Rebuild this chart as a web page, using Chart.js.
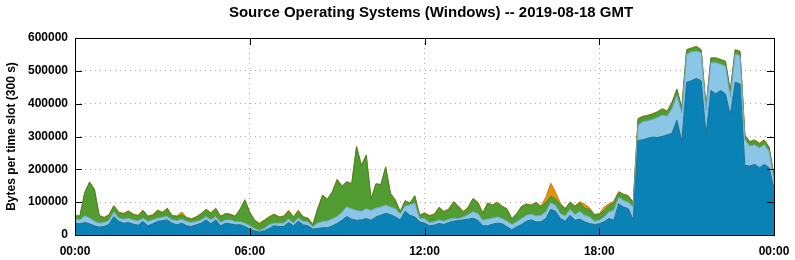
<!DOCTYPE html>
<html lang="en">
<head>
    <meta charset="UTF-8">
    <title>Source Operating Systems (Windows)</title>
    <script src="https://cdn.jsdelivr.net/npm/chart.js"></script>
    <style>
        body {
            margin: 0;
            padding: 0;
            background-color: white;
        }
        canvas {
            display: block;
        }
    </style>
</head>
<body>
    <canvas id="osChart" width="795" height="260"></canvas>

    <script>
        // values in thousands of bytes per 300 s slot, one value every 10 minutes (00:00 .. 24:00)
        const darkBlue = [
            36, 34, 38, 34, 28, 24,   26, 32, 56, 42, 36, 38,
            33, 30, 41, 28, 34, 41,   44, 46, 36, 31, 36, 28,
            26, 31, 36, 46, 34, 46,   28, 36, 34, 31, 31, 26,
            18, 13, 9, 13, 20, 28,    26, 26, 38, 28, 42, 31,
            28, 18, 20, 22, 22, 28,   35, 45, 56, 48, 45, 46,
            50, 45, 55, 60, 66, 62,   55, 46, 72, 60, 55, 40,
            36, 28, 30, 35, 32, 38,   42, 44, 46, 48, 51, 45,
            28, 28, 33, 36, 34, 25,   16, 25, 32, 42, 46, 40,
            40, 50, 78, 72, 50, 42,   60, 45, 48, 40, 35, 32,
            34, 40, 50, 45, 95, 85,   80, 45, 288, 290, 295, 298,
            297, 300, 305, 310, 350, 285,   465, 470, 477, 470, 305, 440,
            430, 440, 430, 365, 465, 460,   212, 210, 215, 205, 215, 205,
            140
        ];
        const lightBlue = [
            12, 12, 20, 18, 14, 12,   12, 12, 14, 10, 12, 13,
            13, 13, 10, 13, 12, 10,   10, 10, 10, 13, 12, 13,
            12, 10, 10, 10, 12, 10,   10, 10, 12, 10, 10, 10,
            10, 7, 4, 7, 11, 8,       10, 10, 10, 8, 10, 10,
            12, 7, 16, 19, 21, 21,    21, 25, 30, 32, 30, 26,
            30, 30, 27, 25, 25, 23,   25, 18, 16, 32, 42, 10,
            14, 10, 10, 11, 10, 10,   9, 6, 9, 14, 20, 20,
            17, 20, 19, 19, 16, 17,   16, 15, 18, 18, 17, 18,
            20, 20, 20, 18, 15, 16,   18, 17, 24, 20, 20, 10,
            10, 15, 20, 30, 20, 20,   20, 40, 47, 55, 53, 54,
            61, 65, 57, 75, 75, 87,   85, 88, 83, 85, 75, 85,
            95, 80, 85, 55, 87, 85,   78, 60, 60, 60, 60, 50,
            28
        ];
        const green = [
            11, 10, 70, 108, 96, 22,  14, 16, 18, 16, 16, 21,
            16, 15, 23, 15, 14, 23,   14, 24, 12, 12, 14, 11,
            10, 13, 18, 21, 20, 24,   18, 18, 16, 15, 36, 70,
            40, 24, 21, 24, 23, 26,   18, 20, 25, 18, 21, 13,
            10, 6, 43, 79, 65, 81,    112, 78, 75, 75, 193, 139,
            162, 33, 73, 67, 115, 40, 25, 6, 15, 4, 21, 9,
            16, 20, 22, 37, 28, 30,   49, 36, 15, 21, 39, 33,
            21, 48, 38, 43, 36, 36,   16, 24, 36, 33, 27, 40,
            25, 30, 20, 20, 27, 21,   21, 24, 27, 22, 23, 19,
            19, 20, 20, 23, 15, 18,   18, 13, 18, 15, 15, 16,
            16, 18, 14, 18, 18, 14,   13, 10, 13, 8, 8, 13,
            13, 13, 13, 18, 11, 13,   13, 13, 13, 13, 13, 11,
            10
        ];
        const orange = [
            2, 2, 2, 2, 2, 2,   2, 2, 2, 2, 2, 2,
            2, 2, 2, 2, 2, 2,   2, 2, 2, 2, 8, 2,
            2, 2, 2, 2, 2, 2,   2, 2, 2, 2, 2, 2,
            2, 2, 2, 2, 2, 2,   2, 2, 2, 2, 2, 2,
            2, 2, 2, 2, 2, 2,   2, 2, 2, 2, 2, 2,
            2, 2, 2, 2, 2, 2,   2, 2, 2, 2, 2, 2,
            2, 2, 2, 2, 2, 2,   2, 2, 2, 2, 2, 2,
            2, 2, 2, 2, 2, 2,   2, 2, 2, 2, 2, 2,
            3, 15, 40, 20, 5, 2,   2, 2, 2, 12, 5, 2,
            2, 10, 5, 5, 2, 2,  2, 2, 2, 2, 2, 2,
            2, 2, 2, 2, 2, 2,   2, 2, 2, 2, 2, 2,
            2, 2, 2, 2, 2, 2,   2, 2, 2, 2, 2, 2,
            2
        ];
        const slotMinutes = darkBlue.map((_, i) => i * 10);
        const yTicks = [0, 100000, 200000, 300000, 400000, 500000, 600000];
        const xTicks = [0, 360, 720, 1080, 1440];
        const chartTitle = 'Source Operating Systems (Windows) -- 2019-08-18 GMT';

        const FONT = '"Liberation Sans", Arial, sans-serif';

        function toPoints(values) {
            return values.map((v, i) => ({ x: slotMinutes[i], y: v * 1000 }));
        }

        function hhmm(minutes) {
            const h = Math.floor(minutes / 60) % 24;
            const m = minutes % 60;
            return String(h).padStart(2, '0') + ':' + String(m).padStart(2, '0');
        }

        // title centred a bit right of the canvas, like the original plot
        const titlePlugin = {
            id: 'plotTitle',
            afterDraw(chart) {
                const c = chart.ctx;
                c.save();
                c.font = 'bold 15px ' + FONT;
                c.fillStyle = '#000';
                c.textAlign = 'center';
                c.textBaseline = 'middle';
                c.fillText(chartTitle, 431, 13);
                c.restore();
            }
        };

        // black frame plus short inward tick marks on all four sides
        const framePlugin = {
            id: 'frame',
            afterDraw(chart) {
                const { ctx, chartArea: a, scales } = chart;
                ctx.save();
                ctx.strokeStyle = '#000';
                ctx.lineWidth = 1;
                ctx.beginPath();
                yTicks.slice(1, -1).forEach(v => {
                    const y = Math.round(scales.y.getPixelForValue(v)) + 0.5;
                    ctx.moveTo(a.left, y); ctx.lineTo(a.left + 7, y);
                    ctx.moveTo(a.right, y); ctx.lineTo(a.right - 7, y);
                });
                xTicks.slice(1, -1).forEach(v => {
                    const x = Math.round(scales.x.getPixelForValue(v)) + 0.5;
                    ctx.moveTo(x, a.top); ctx.lineTo(x, a.top + 7);
                    ctx.moveTo(x, a.bottom); ctx.lineTo(x, a.bottom - 7);
                });
                ctx.stroke();
                ctx.strokeRect(Math.round(a.left) + 0.5, Math.round(a.top) + 0.5,
                    Math.round(a.right - a.left), Math.round(a.bottom - a.top));
                ctx.restore();
            }
        };

        const gridColor = (ctx) => {
            const v = ctx.tick ? ctx.tick.value : null;
            return (v === null || ctx.index === 0 || ctx.index === ctx.scale.ticks.length - 1) ? 'rgba(0,0,0,0)' : '#a8a8a8';
        };

        const ctx = document.getElementById('osChart').getContext('2d');
        new Chart(ctx, {
            type: 'line',
            data: {
                datasets: [
                    { label: 'dark blue', data: toPoints(darkBlue), backgroundColor: '#0a82b6', borderColor: '#1b6e94', fill: 'origin' },
                    { label: 'light blue', data: toPoints(lightBlue), backgroundColor: '#8cc6e6', borderColor: '#6fa4c2', fill: '-1' },
                    { label: 'green', data: toPoints(green), backgroundColor: '#519d31', borderColor: '#3f8728', fill: '-1' },
                    { label: 'orange', data: toPoints(orange), backgroundColor: '#e8920c', borderColor: '#c47e1c', fill: '-1' }
                ]
            },
            options: {
                responsive: false,
                animation: false,
                elements: {
                    point: { radius: 0 },
                    line: { borderWidth: 1, tension: 0 }
                },
                layout: { padding: { left: 0, right: 21, top: 38, bottom: 0 } },
                scales: {
                    x: {
                        type: 'linear',
                        min: 0,
                        max: 1440,
                        afterBuildTicks: (scale) => { scale.ticks = xTicks.map(v => ({ value: v })); },
                        afterFit: (scale) => {
                            scale.height = 25;
                            scale.paddingLeft = 0;
                            scale.paddingRight = 0;
                        },
                        ticks: {
                            callback: (v) => hhmm(v),
                            color: '#000',
                            padding: 9,
                            maxRotation: 0,
                            font: { family: FONT, size: 12, weight: 'bold' }
                        },
                        grid: { color: gridColor, drawTicks: false, lineWidth: 1 },
                        border: { display: false, dash: [1, 4] }
                    },
                    y: {
                        stacked: true,
                        min: 0,
                        max: 600000,
                        afterBuildTicks: (scale) => { scale.ticks = yTicks.map(v => ({ value: v })); },
                        afterFit: (scale) => { scale.width = 75; },
                        ticks: {
                            callback: (v) => String(v),
                            color: '#000',
                            padding: 7,
                            font: { family: FONT, size: 12, weight: 'bold' }
                        },
                        title: {
                            display: true,
                            text: 'Bytes per time slot (300 s)',
                            color: '#000',
                            padding: { top: 4, bottom: 0 },
                            font: { family: FONT, size: 12, weight: 'bold' }
                        },
                        grid: { color: gridColor, drawTicks: false, lineWidth: 1 },
                        border: { display: false, dash: [1, 4] }
                    }
                },
                plugins: {
                    legend: { display: false },
                    tooltip: { enabled: false },
                    title: { display: false }
                }
            },
            plugins: [framePlugin, titlePlugin]
        });
    </script>
</body>
</html>
